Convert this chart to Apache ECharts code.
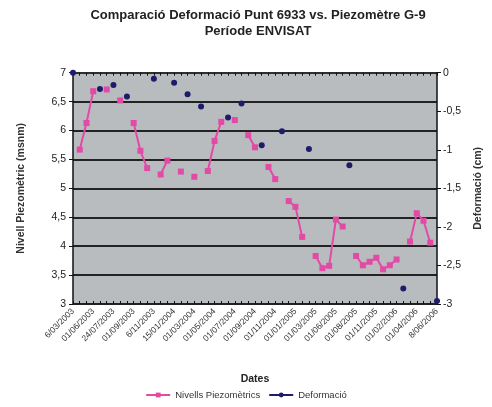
<!DOCTYPE html>
<html>
<head>
<meta charset="utf-8">
<script src="https://cdn.jsdelivr.net/npm/echarts@6/dist/echarts.min.js"></script>
<style>
  html, body { margin: 0; padding: 0; background: #fff; }
  #main { width: 492px; height: 407px; }
</style>
</head>
<body>
<div id="main"></div>
<script>
// etiquetes visibles de l'eix X (una de cada tres dates)
var dateLabels = [
  '6/03/2003', '01/06/2003', '24/07/2003', '01/09/2003', '6/11/2003',
  '15/01/2004', '01/03/2004', '01/05/2004', '01/07/2004', '01/09/2004',
  '01/11/2004', '01/01/2005', '01/03/2005', '01/06/2005', '01/08/2005',
  '01/11/2005', '01/02/2006', '01/04/2006', '8/06/2006'
];
var labelStep = 3;

// nivells piezomètrics (msnm), null quan no hi ha lectura
var nivells = [
  null, 5.67, 6.13, 6.68, null, 6.71, null, 6.52, null, 6.13,
  5.65, 5.35, null, 5.24, 5.48, null, 5.29, null, 5.20, null,
  5.30, 5.82, 6.15, null, 6.18, null, 5.92, 5.71, null, 5.37,
  5.16, null, 4.78, 4.68, 4.16, null, 3.83, 3.62, 3.66, 4.46,
  4.34, null, 3.83, 3.67, 3.73, 3.80, 3.60, 3.67, 3.77, null,
  4.08, 4.57, 4.44, 4.06, null
];

// deformació (cm), només a les dates d'adquisició ENVISAT
var deformacio = [
  0, null, null, null, -0.21, null, -0.16, null, -0.31, null,
  null, null, -0.08, null, null, -0.13, null, -0.28, null, -0.44,
  null, null, null, -0.58, null, -0.40, null, null, -0.94, null,
  null, -0.76, null, null, null, -0.99, null, null, null, null,
  null, -1.20, null, null, null, null, null, null, null, -2.80,
  null, null, null, null, -2.96
];

var categories = [];
for (var i = 0; i < nivells.length; i++) {
  categories.push(i % labelStep === 0 ? dateLabels[i / labelStep] : '');
}

function comma(v) { return String(v).replace('.', ','); }

var pink = '#e24aa6';
var navy = '#1c1c6b';
var font = 'Liberation Sans, Arial, sans-serif';

var chart = echarts.init(document.getElementById('main'));
chart.setOption({
  animation: false,
  textStyle: { fontFamily: font },
  title: {
    text: 'Comparació Deformació Punt 6933 vs. Piezomètre G-9\nPeríode ENVISAT',
    left: 253,
    top: 2,
    textAlign: 'center',
    textStyle: { fontSize: 13, fontWeight: 'bold', color: '#222', lineHeight: 16, fontFamily: font }
  },
  legend: {
    bottom: 2,
    left: 'center',
    itemWidth: 24,
    itemHeight: 6,
    itemGap: 8,
    textStyle: { fontSize: 9.5, color: '#333', fontFamily: font },
    data: ['Nivells Piezomètrics', 'Deformació']
  },
  grid: {
    left: 73, right: 45, top: 72.7, bottom: 103,
    show: true, backgroundColor: '#b9bcbf', borderWidth: 0
  },
  xAxis: [{
    type: 'category',
    data: categories,
    boundaryGap: false,
    name: 'Dates',
    nameLocation: 'middle',
    nameGap: 70,
    nameTextStyle: { fontSize: 10.5, fontWeight: 'bold', color: '#222' },
    axisLine: { lineStyle: { color: '#111', width: 1.5 } },
    axisTick: { show: true, interval: 0, length: 3, lineStyle: { color: '#111' } },
    axisLabel: { interval: 0, rotate: 45, fontSize: 8.5, color: '#333', margin: 6 },
    splitLine: { show: false }
  }, {
    type: 'category',
    data: categories,
    boundaryGap: false,
    position: 'bottom',
    axisLine: { show: false },
    axisTick: { show: true, inside: true, interval: 0, length: 3, lineStyle: { color: '#111' } },
    axisLabel: { show: false }
  }],
  yAxis: [{
    type: 'value',
    min: 3, max: 7, interval: 0.5,
    name: 'Nivell Piezomètric (msnm)',
    nameLocation: 'middle',
    nameRotate: 90,
    nameGap: 46,
    nameTextStyle: { fontSize: 10.5, fontWeight: 'bold', color: '#333' },
    axisLine: { show: true, lineStyle: { color: '#111', width: 1.5 } },
    axisTick: { show: true, length: 4, lineStyle: { color: '#111' } },
    axisLabel: { fontSize: 10.5, color: '#222', margin: 7, formatter: comma },
    splitLine: {
      show: true,
      lineStyle: { color: ['#222', '#222', '#222', '#222', '#222', '#222', '#222', '#222', '#8a8c8e'], width: 2 }
    }
  }, {
    type: 'value',
    min: -3, max: 0, interval: 0.5,
    position: 'right',
    name: 'Deformació (cm)',
    nameLocation: 'middle',
    nameRotate: 90,
    nameGap: 36,
    nameTextStyle: { fontSize: 10.5, fontWeight: 'bold', color: '#333' },
    axisLine: { show: true, lineStyle: { color: '#111', width: 1.5 } },
    axisTick: { show: true, length: 4, lineStyle: { color: '#111' } },
    axisLabel: { fontSize: 10.5, color: '#222', margin: 6, formatter: comma },
    splitLine: { show: false }
  }],
  series: [{
    name: 'Nivells Piezomètrics',
    type: 'line',
    yAxisIndex: 0,
    data: nivells,
    connectNulls: false,
    showAllSymbol: true,
    symbol: 'rect',
    symbolSize: 6,
    itemStyle: { color: pink },
    lineStyle: { color: pink, width: 2 }
  }, {
    name: 'Deformació',
    type: 'line',
    yAxisIndex: 1,
    data: deformacio,
    connectNulls: false,
    showAllSymbol: true,
    symbol: 'circle',
    symbolSize: 6,
    itemStyle: { color: navy },
    lineStyle: { color: navy, width: 2 }
  }]
});
</script>
</body>
</html>
